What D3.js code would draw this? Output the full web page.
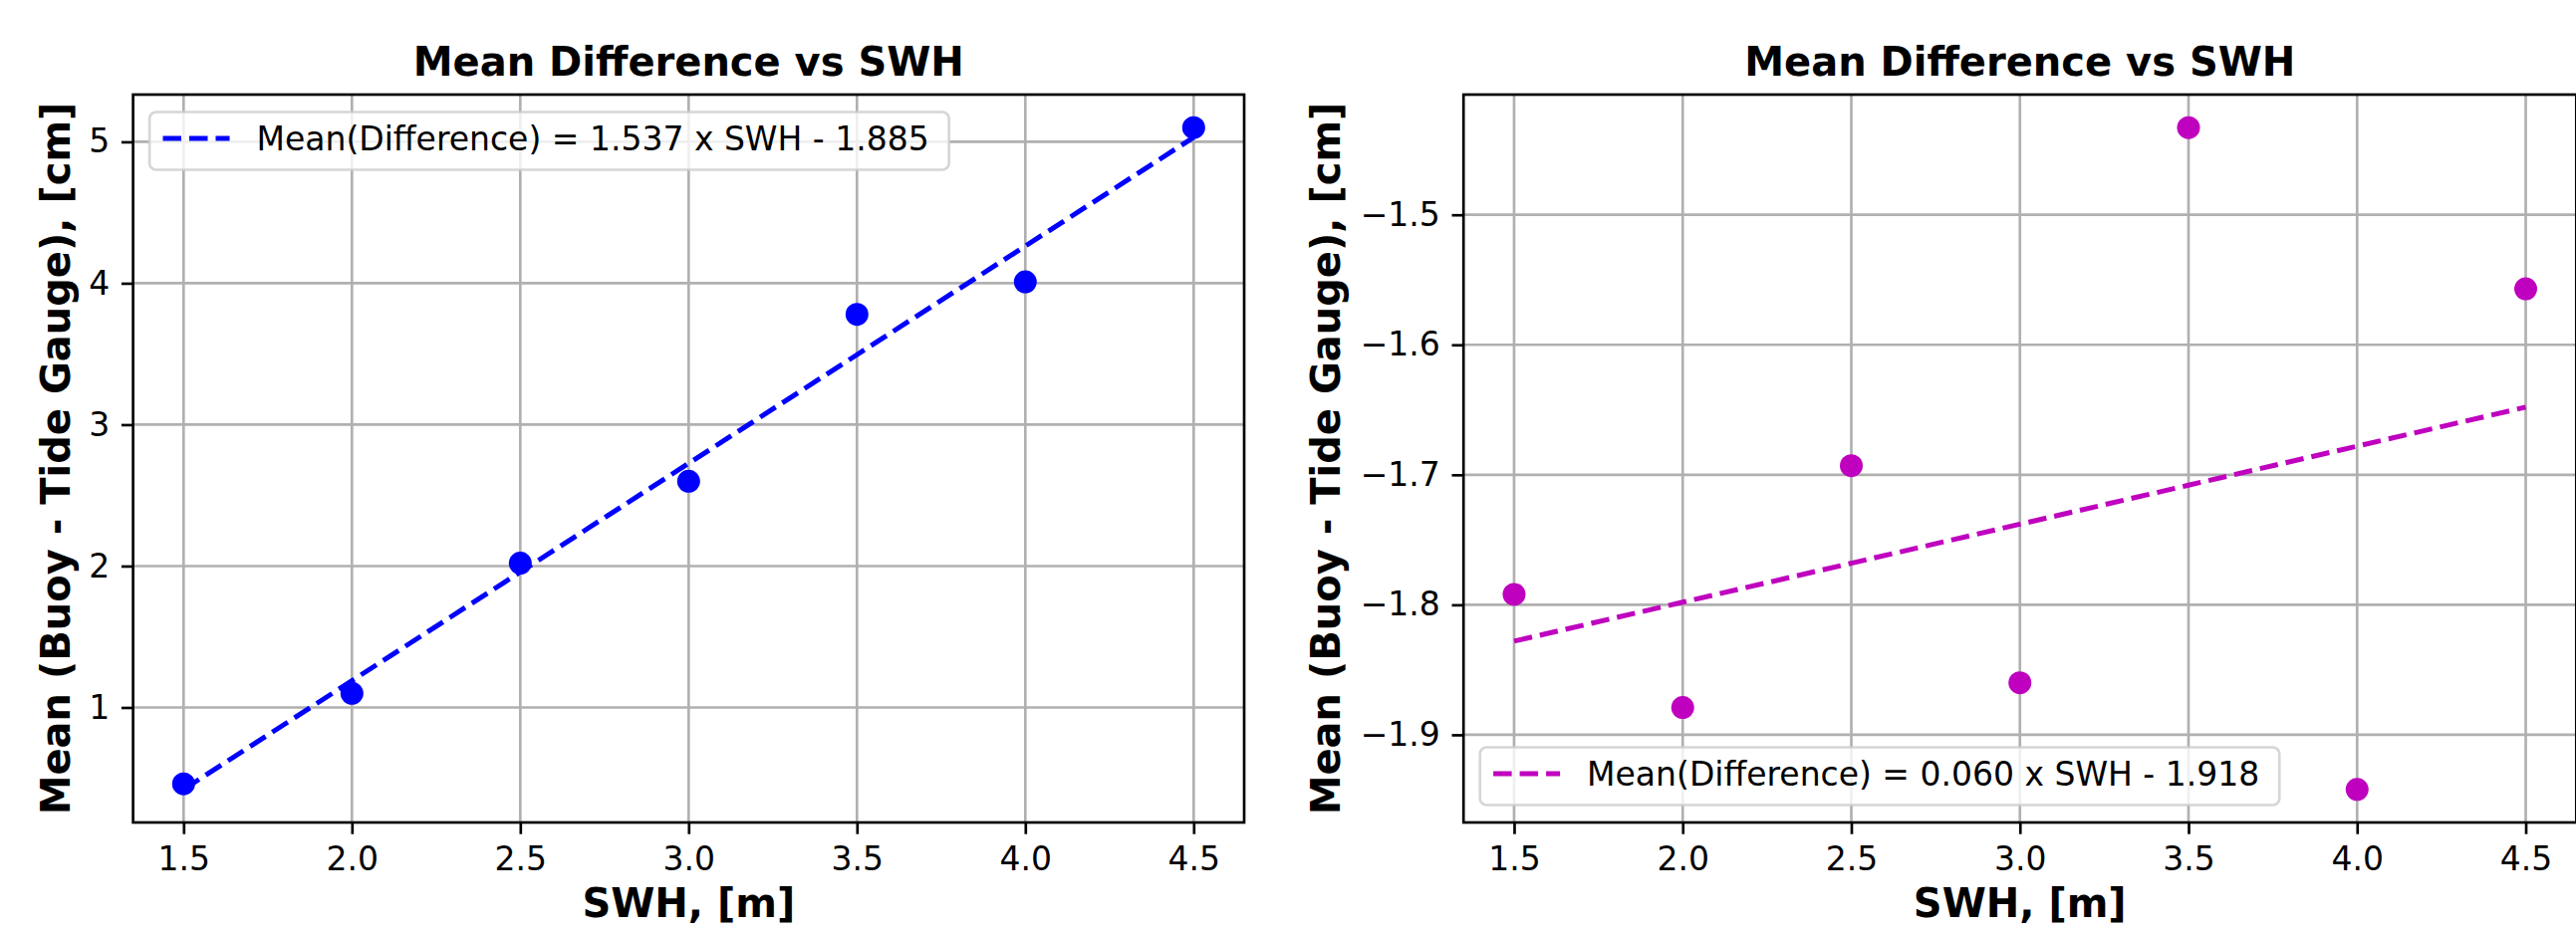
<!DOCTYPE html>
<html>
<head>
<meta charset="utf-8">
<script src="https://cdn.jsdelivr.net/npm/d3@7"></script>
<style>
  html, body { margin: 0; padding: 0; background: #fff; }
  text { font-family: 'DejaVu Sans', sans-serif; }
</style>
</head>
<body>
<div id="chart"></div>
<script>
// values
const swh = [1.5, 2.0, 2.5, 3.0, 3.5, 4.0, 4.5];
const meanDiffLeft = [0.46, 1.10, 2.02, 2.60, 3.78, 4.01, 5.10];
const meanDiffRight = [-1.792, -1.879, -1.693, -1.860, -1.433, -1.942, -1.557];
const fitSlopes = [1.537, 0.060];
const fitIntercepts = [-1.885, -1.918];
const xTicks = [1.5, 2.0, 2.5, 3.0, 3.5, 4.0, 4.5];
const yTicksLeft = [1, 2, 3, 4, 5];
const yTicksRight = [-1.9, -1.8, -1.7, -1.6, -1.5];
const legendLabels = ['Mean(Difference) = 1.537 x SWH - 1.885', 'Mean(Difference) = 0.060 x SWH - 1.918'];
const titleText = 'Mean Difference vs SWH';
const xLabelText = 'SWH, [m]';
const yLabelText = 'Mean (Buoy - Tide Gauge), [cm]';

const width = 2586;
const height = 936;
const lw = 2.67; // 0.8pt
const tickFont = 33;
const labelFont = 40;

const svg = d3.select('#chart').append('svg')
  .attr('width', width)
  .attr('height', height);

svg.append('rect').attr('width', width).attr('height', height).attr('fill', '#fff');

const drawPanel = (p) => {
  const fitYs = swh.map(x => p.slope * x + p.intercept);
  const xExt = d3.extent(swh);
  const xPad = (xExt[1] - xExt[0]) * 0.05;
  const yExt = d3.extent(p.ys.concat(fitYs));
  const yPad = (yExt[1] - yExt[0]) * 0.05;

  const x = d3.scaleLinear().domain([xExt[0] - xPad, xExt[1] + xPad]).range([p.left, p.right]);
  const y = d3.scaleLinear().domain([yExt[0] - yPad, yExt[1] + yPad]).range([p.bottom, p.top]);

  const g = svg.append('g');

  // grid
  g.append('g').selectAll('line.vg')
    .data(xTicks).enter().append('line')
    .attr('x1', d => x(d)).attr('x2', d => x(d))
    .attr('y1', p.top).attr('y2', p.bottom)
    .attr('stroke', '#b0b0b0').attr('stroke-width', lw);
  g.append('g').selectAll('line.hg')
    .data(p.yTicks).enter().append('line')
    .attr('x1', p.left).attr('x2', p.right)
    .attr('y1', d => y(d)).attr('y2', d => y(d))
    .attr('stroke', '#b0b0b0').attr('stroke-width', lw);

  // fit line
  const line = d3.line().x((d, i) => x(swh[i])).y(d => y(d));
  g.append('path')
    .datum(fitYs)
    .attr('d', line)
    .attr('fill', 'none')
    .attr('stroke', p.color)
    .attr('stroke-width', 5)
    .attr('stroke-dasharray', '18.5,8');

  // points
  g.append('g').selectAll('circle')
    .data(p.ys).enter().append('circle')
    .attr('cx', (d, i) => x(swh[i]))
    .attr('cy', d => y(d))
    .attr('r', 11.5)
    .attr('fill', p.color);

  // axes
  const xAxis = d3.axisBottom(x).tickValues(xTicks).tickFormat(d3.format('.1f'))
    .tickSize(11.7).tickPadding(11.7);
  const yAxis = d3.axisLeft(y).tickValues(p.yTicks).tickFormat(d3.format(p.yFormat))
    .tickSize(11.7).tickPadding(11.7);

  const gx = g.append('g').attr('transform', `translate(0,${p.bottom})`).call(xAxis);
  const gy = g.append('g').attr('transform', `translate(${p.left},0)`).call(yAxis);
  [gx, gy].forEach((ax) => {
    ax.select('.domain').remove();
    ax.selectAll('.tick line').attr('stroke', '#000').attr('stroke-width', lw);
    ax.selectAll('.tick text')
      .attr('fill', '#000')
      .style('font-family', 'DejaVu Sans')
      .style('font-size', `${tickFont}px`);
  });
  gx.selectAll('.tick text').attr('dy', '0.76em');

  // spines
  g.append('rect')
    .attr('x', p.left).attr('y', p.top)
    .attr('width', p.right - p.left).attr('height', p.bottom - p.top)
    .attr('fill', 'none').attr('stroke', '#000').attr('stroke-width', lw);

  // legend
  const leg = g.append('g');
  const box = leg.append('rect')
    .attr('fill', '#fff').attr('fill-opacity', 0.8)
    .attr('stroke', '#cccccc').attr('stroke-opacity', 0.8)
    .attr('stroke-width', lw)
    .attr('rx', 6.6).attr('ry', 6.6);
  const lx = p.left + 16.5;
  const boxH = 58;
  const ly = p.legendPos === 'upper' ? p.top + 17.5 : p.bottom - 17.5 - boxH;
  const cy = ly + boxH / 2 - 2.5;
  leg.append('line')
    .attr('x1', lx + 13.4).attr('x2', lx + 13.4 + 67)
    .attr('y1', cy).attr('y2', cy)
    .attr('stroke', p.color).attr('stroke-width', 5)
    .attr('stroke-dasharray', '18.5,8');
  const lt = leg.append('text')
    .attr('x', lx + 13.4 + 67 + 27)
    .attr('y', cy + 12)
    .style('font-size', `${tickFont}px`)
    .attr('fill', '#000')
    .text(p.legend);
  const tlen = lt.node().getComputedTextLength();
  box.attr('x', lx).attr('y', ly)
    .attr('width', 13.4 + 67 + 27 + tlen + 20)
    .attr('height', boxH);

  // title and labels
  const cx = (p.left + p.right) / 2;
  g.append('text')
    .attr('x', cx).attr('y', 76)
    .attr('text-anchor', 'middle')
    .style('font-size', `${labelFont}px`).style('font-weight', 'bold')
    .text(titleText);
  g.append('text')
    .attr('x', cx).attr('y', 921)
    .attr('text-anchor', 'middle')
    .style('font-size', `${labelFont}px`).style('font-weight', 'bold')
    .text(xLabelText);
  g.append('text')
    .attr('transform', `translate(${p.yLabelX},${(p.top + p.bottom) / 2}) rotate(-90)`)
    .attr('text-anchor', 'middle')
    .style('font-size', `${labelFont}px`).style('font-weight', 'bold')
    .text(yLabelText);
};

drawPanel({
  left: 133.6, right: 1249, top: 95, bottom: 826,
  ys: meanDiffLeft, slope: fitSlopes[0], intercept: fitIntercepts[0],
  color: '#0000ff', yTicks: yTicksLeft, yFormat: 'd',
  legend: legendLabels[0], legendPos: 'upper', yLabelX: 70,
});

drawPanel({
  left: 1469.2, right: 2586.3, top: 95, bottom: 826,
  ys: meanDiffRight, slope: fitSlopes[1], intercept: fitIntercepts[1],
  color: '#bf00bf', yTicks: yTicksRight, yFormat: '.1f',
  legend: legendLabels[1], legendPos: 'lower', yLabelX: 1345,
});
</script>
</body>
</html>
